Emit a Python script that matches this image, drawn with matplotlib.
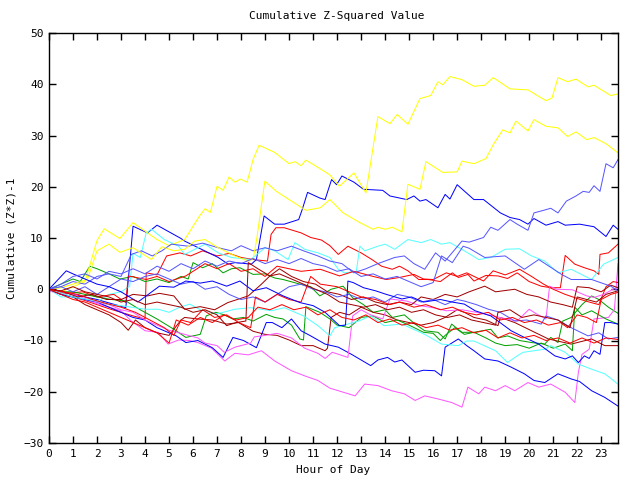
import matplotlib
matplotlib.use("Agg")
import matplotlib.pyplot as plt

# ---- data (hour of day, cumulative value) ----
yel1_h = [0, 0.5, 1.0, 1.5, 2.0, 2.3, 2.95, 3.5, 4.5, 5.0, 5.65, 6.27, 6.5, 6.72, 7.0, 7.25, 7.5, 7.75, 7.97, 8.25,
          8.5, 8.75, 9.4, 10.0, 10.25, 10.5, 10.7, 11.3, 11.7, 12.1, 12.7, 13.2, 13.7, 14.2, 14.5, 14.95, 15.45, 15.9,
          16.2, 16.4, 16.7, 17.2, 17.7, 18.15, 18.5, 19.2, 19.95, 20.7, 20.95, 21.2, 21.6, 21.95, 22.45, 22.7, 23.4, 23.7]
yel1_v = [0, -0.5, 0.5, 1.5, 9.5, 11.8, 9.9, 13.0, 9.7, 8.5, 9.7, 14.3, 15.7, 15.0, 20.1, 19.3, 21.9, 20.9, 21.5, 20.9,
          25.3, 28.1, 26.7, 24.5, 24.9, 24.1, 25.2, 23.5, 22.3, 20.1, 22.7, 18.8, 33.7, 32.3, 34.1, 32.2, 37.2, 37.8,
          40.5, 39.9, 41.5, 40.9, 39.6, 39.8, 41.3, 39.1, 38.9, 36.8, 37.3, 41.3, 40.5, 41.0, 39.5, 39.8, 37.8, 38.1]

yel2_h = [0, 0.5, 1.0, 1.6, 2.0, 2.5, 2.95, 3.5, 4.27, 4.7, 5.2, 5.65, 6.07, 6.5, 7.05, 7.75, 8.3, 8.5, 8.64, 8.99,
          9.47, 10.0, 10.7, 11.3, 11.7, 12.25, 12.95, 13.5, 13.7, 14.0, 14.3, 14.7, 14.95, 15.45, 15.7, 16.4, 17.0,
          17.2, 17.7, 18.2, 18.5, 18.9, 19.2, 19.45, 19.95, 20.2, 20.7, 21.2, 21.6, 21.95, 22.4, 22.7, 23.2, 23.7]
yel2_v = [0, 0.3, 1.0, 1.9, 7.5, 8.8, 7.2, 8.1, 5.8, 8.3, 7.5, 7.8, 9.4, 9.7, 8.1, 6.5, 5.5, 5.9, 9.4, 21.1,
          19.1, 17.5, 15.4, 15.9, 17.5, 14.9, 13.0, 11.7, 12.1, 11.7, 12.1, 11.2, 20.5, 19.5, 24.9, 22.8, 22.9,
          25.0, 24.5, 25.5, 28.2, 31.1, 30.5, 32.8, 30.9, 33.1, 31.8, 31.5, 29.8, 30.7, 29.2, 29.6, 28.4, 26.6]

blu1_h = [0, 1.0, 2.0, 3.2, 3.5, 4.1, 4.5, 5.5, 5.65, 6.35, 7.05, 7.46, 7.75, 8.43, 8.64, 8.96, 9.4, 9.8, 10.4,
          10.55, 10.77, 11.28, 11.5, 11.77, 11.98, 12.2, 12.7, 13.1, 13.9, 14.2, 14.9, 15.2, 15.45, 15.7, 16.2,
          16.5, 16.7, 17.0, 17.7, 18.1, 18.8, 19.2, 19.6, 19.95, 20.2, 20.7, 21.2, 21.5, 22.1, 22.7, 23.2, 23.5, 23.7]
blu1_v = [0, -1.0, -2.0, -3.6, 12.3, 11.0, 12.5, 9.9, 9.4, 7.8, 6.2, 4.9, 5.2, 4.9, 5.8, 14.3, 12.7, 12.7, 13.6,
          15.6, 18.9, 17.8, 17.5, 21.4, 20.4, 22.1, 20.9, 19.5, 19.3, 18.2, 17.5, 18.2, 17.2, 17.5, 15.9,
          18.5, 17.6, 20.4, 17.5, 17.5, 14.9, 14.0, 13.6, 12.7, 13.8, 12.5, 13.2, 12.5, 12.7, 12.2, 10.3, 12.5, 11.7]

blu2_h = [0, 0.5, 1.0, 1.5, 2.0, 2.5, 3.0, 3.5, 4.0, 4.5, 5.0, 5.3, 5.7, 6.2, 6.8, 7.25, 7.66, 8.1, 8.64, 9.05,
          9.3, 9.7, 10.1, 10.5, 10.9, 11.5, 12.05, 12.6, 13.4, 13.7, 14.1, 14.4, 14.7, 15.25, 15.6, 16.07, 16.35,
          16.5, 17.05, 17.4, 17.7, 18.15, 18.7, 19.25, 19.8, 20.2, 20.65, 21.2, 21.75, 22.1, 22.6, 23.15, 23.7]
blu2_v = [0, -1.0, -1.5, -2.0, -2.5, -3.5, -4.5, -5.5, -6.0, -7.5, -8.5, -9.1, -10.4, -10.0, -11.4, -13.3, -9.4,
          -10.0, -11.4, -6.5, -6.5, -7.5, -5.8, -8.1, -9.1, -10.7, -11.3, -12.7, -14.9, -13.8, -13.3, -14.2, -13.8,
          -16.2, -15.8, -15.9, -16.9, -11.3, -9.7, -11.0, -12.0, -13.6, -14.0, -15.2, -16.5, -17.8, -18.2, -16.5,
          -17.5, -18.0, -19.8, -21.1, -22.8]

blu3_h = [0, 0.3, 0.72, 1.0, 1.5, 2.0, 2.5, 3.0, 3.7, 4.05, 4.6, 5.2, 5.7, 6.3, 6.8, 7.4, 7.95, 8.5, 9.05, 9.75,
          10.45, 11.0, 11.5, 12.1, 12.35, 12.45, 12.67, 13.1, 13.6, 14.05, 14.7, 15.1, 15.6, 16.3, 16.8, 17.3,
          17.75, 18.4, 18.7, 19.25, 19.8, 20.4, 21.07, 21.5, 21.8, 22.05, 22.3, 22.5, 22.7, 22.95, 23.15, 23.4, 23.7]
blu3_v = [0, 1.5, 3.6, 3.0, 2.0, 1.0, 0.5, -0.5, -2.5, -1.3, 0.6, 0.4, 1.6, 1.2, 1.6, 0.6, 1.6, -0.3, 0.3, -1.3,
          -2.6, -3.2, -4.5, -7.1, -7.0, 1.6, 1.3, 0.3, -0.3, -1.0, -1.9, -1.5, -2.5, -2.0, -2.5, -2.9,
          -4.2, -5.2, -6.2, -8.1, -9.4, -10.7, -13.0, -13.6, -13.0, -14.3, -13.0, -13.5, -12.0, -12.7, -6.5, -6.5, -6.8]

slt1_h = [0, 0.5, 1.0, 1.5, 2.0, 2.5, 3.0, 3.43, 3.85, 4.3, 4.7, 5.1, 5.8, 6.4, 7.05, 7.6, 8.0, 8.5, 9.0, 9.5,
          10.1, 10.6, 11.2, 11.7, 12.2, 12.7, 13.2, 13.7, 14.4, 14.8, 15.2, 15.65, 16.1, 16.5, 17.2, 17.5, 18.1,
          18.4, 18.7, 19.2, 19.5, 19.95, 20.2, 20.6, 20.9, 21.2, 21.55, 21.95, 22.25, 22.5, 22.7, 22.95, 23.2, 23.5, 23.7]
slt1_v = [0, 0.5, 1.5, 1.0, 2.5, 3.0, 2.5, 6.8, 7.5, 6.5, 7.5, 8.8, 8.4, 9.0, 8.1, 7.5, 8.5, 7.5, 8.1, 7.5,
          8.4, 7.5, 6.5, 5.5, 5.0, 3.2, 4.0, 5.0, 6.2, 6.5, 5.0, 3.9, 7.1, 5.5, 9.4, 9.2, 10.1,
          12.1, 11.5, 13.6, 12.7, 11.5, 14.9, 15.4, 15.8, 14.9, 17.2, 18.2, 19.1, 18.9, 20.2, 19.1, 24.5, 23.7, 25.3]

slt2_h = [0, 0.5, 1.0, 1.5, 2.0, 2.5, 3.0, 3.5, 4.0, 4.5, 5.0, 5.5, 6.0, 6.5, 7.0, 7.5, 8.0, 8.5, 9.0, 9.5, 10.0,
          10.5, 11.0, 11.5, 12.0, 12.5, 13.0, 13.5, 14.0, 14.5, 15.0, 15.5, 16.0, 16.5, 17.0, 17.3, 17.8, 18.3,
          18.8, 19.4, 19.9, 20.5, 20.7, 21.2, 21.75, 22.45, 22.9, 23.3, 23.7]
slt2_v = [0, 0.5, -0.5, 0.5, -1.0, 0.5, 2.0, 1.5, 2.5, 3.0, 2.0, 1.0, 1.5, 0.0, 0.5, -1.0, -2.0, -1.5, -2.5, -1.0,
          0.5, 1.0, 0.0, -0.5, -1.5, -1.0, -2.0, -1.5, -2.5, -1.0, -1.5, -2.5, -2.0, -3.0, -2.0, -2.3, -3.0, -3.9,
          -4.5, -6.2, -6.0, -6.8, -5.2, -6.0, -7.5, -9.1, -8.5, -9.7, -9.4]

slt3_h = [0, 0.5, 1.0, 1.5, 2.0, 2.5, 3.0, 3.5, 4.0, 4.5, 5.0, 5.5, 6.0, 6.5, 7.0, 7.5, 8.0, 8.5, 9.0, 9.5, 10.0,
          10.5, 11.0, 11.5, 12.0, 12.5, 13.0, 13.5, 14.0, 14.5, 15.0, 15.5, 16.0, 16.35, 16.8, 17.25, 17.5, 18.15,
          19.0, 19.8, 20.4, 21.35, 21.75, 22.6, 23.4, 23.7]
slt3_v = [0, 1.0, 2.5, 3.0, 2.0, 3.5, 3.0, 4.0, 3.0, 4.5, 3.5, 5.0, 4.0, 5.5, 4.5, 5.5, 5.0, 6.0, 5.0, 5.8, 5.0,
          6.0, 5.0, 4.5, 3.5, 4.0, 2.5, 3.0, 2.0, 2.5, 1.5, 0.5, 1.3, 6.5, 5.2, 8.4, 8.0, 6.2,
          6.5, 3.9, 5.8, 2.9, 1.9, 1.9, 0.6, -0.3]

red1_h = [0, 0.5, 1.0, 1.5, 2.0, 2.5, 3.0, 3.5, 4.0, 4.05, 4.5, 4.9, 5.45, 5.9, 6.4, 7.0, 7.5, 8.0, 8.5, 9.1,
          9.25, 9.45, 9.8, 10.5, 10.9, 11.35, 11.7, 12.05, 12.45, 13.0, 13.45, 13.85, 14.3, 14.6, 14.95, 15.4,
          15.8, 16.3, 16.8, 17.05, 17.45, 17.7, 18.2, 18.7, 19.1, 19.5, 20.0, 20.5, 20.9, 21.3, 21.5, 21.9, 22.3,
          22.7, 22.9, 22.95, 23.3, 23.7]
red1_v = [0, -0.8, -1.5, -2.2, -3.0, -3.8, -4.5, -5.2, -5.8, 3.2, 2.8, 6.5, 7.1, 6.5, 7.5, 6.5, 7.0, 6.2, 5.8, 5.5,
          10.7, 12.0, 12.0, 11.0, 10.1, 9.6, 8.5, 6.8, 8.4, 7.1, 5.8, 4.5, 3.9, 4.5, 3.6, 1.9,
          1.9, 1.5, 3.2, 2.3, 2.9, 1.6, 2.7, 2.6, 2.1, 3.2, 1.5, 0.6, 0.3, 0.3, 6.6, 4.9, 4.2,
          3.6, 2.9, 6.8, 7.1, 8.8]

red2_h = [0, 0.7, 1.4, 2.0, 2.7, 3.2, 3.3, 4.05, 4.5, 5.0, 5.7, 6.5, 7.0, 7.5, 8.0, 8.5, 9.0, 9.5, 10.0, 10.5,
          11.3, 12.1, 12.7, 13.5, 14.05, 14.6, 15.2, 15.6, 16.0, 16.55, 17.0, 17.4, 18.1, 18.5, 19.0, 19.6, 20.1,
          20.6, 21.0, 21.5, 22.0, 22.5, 22.9, 23.2, 23.5, 23.7]
red2_v = [0, -0.8, -0.5, -1.5, -1.0, -2.6, 2.6, 1.9, 2.5, 1.5, 2.6, 5.0, 4.0, 5.0, 3.5, 4.0, 2.5, 4.5, 4.0, 3.5,
          3.9, 2.6, 3.5, 2.5, 1.9, 2.3, 2.9, 2.0, 1.9, 3.2, 2.5, 3.2, 1.6, 3.6, 2.8, 3.9, 2.5,
          1.0, 0.0, -1.0, -1.8, -2.5, -3.0, 0.5, 1.5, 1.3]

red3_h = [0, 0.6, 1.2, 1.8, 2.4, 3.0, 3.6, 4.2, 4.8, 5.2, 5.5, 5.9, 6.4, 6.9, 7.4, 7.9, 8.4, 8.6, 9.0, 9.5, 10.0,
          10.5, 10.9, 11.3, 12.0, 12.5, 13.0, 13.6, 14.2, 14.6, 15.2, 15.7, 16.3, 16.8, 17.3, 17.8, 18.3, 18.8,
          19.3, 19.8, 20.3, 20.8, 21.3, 21.6, 22.0, 22.4, 22.8, 23.0, 23.4, 23.7]
red3_v = [0, -0.5, -1.0, -2.0, -2.8, -3.5, -4.5, -6.0, -7.5, -9.0, -6.0, -6.5, -4.0, -5.5, -5.0, -6.5, -7.5, -1.5,
          -2.5, -1.0, -2.0, -2.5, 2.5, 1.0, 0.5, -0.5, -1.5, -2.0, -3.0, -2.5, -3.5, -3.0, -4.0, -3.5, -4.5, -5.0,
          -4.5, -6.0, -5.5, -6.5, -6.0, -7.0, -6.5, -7.5, -5.0, -5.5, -6.5, -2.0, -1.0, -0.6]

red4_h = [0, 0.5, 1.0, 1.5, 2.0, 2.5, 3.0, 3.5, 4.0, 4.5, 5.0, 5.3, 5.8, 6.3, 6.8, 7.3, 7.8, 8.3, 8.7, 9.2, 9.7,
          10.2, 10.7, 11.2, 11.7, 12.2, 12.7, 13.2, 13.7, 14.2, 14.7, 15.2, 15.7, 16.2, 16.7, 17.2, 17.7, 18.2,
          18.7, 19.2, 19.7, 20.2, 20.7, 21.2, 21.7, 22.2, 22.7, 23.2, 23.7]
red4_v = [0, -1.0, -2.0, -2.5, -3.5, -4.5, -5.5, -6.5, -7.5, -8.5, -10.5, -6.0, -7.0, -5.5, -6.5, -5.0, -6.0, -5.5,
          -3.5, -4.0, -3.0, -4.0, -3.5, -5.0, -4.0, -5.5, -6.0, -5.0, -6.5, -5.8, -7.0, -6.5, -7.5, -7.0, -8.0,
          -7.5, -8.5, -8.0, -9.5, -8.5, -9.5, -9.0, -10.0, -9.5, -10.5, -9.5, -10.5, -9.5, -9.8]

drd1_h = [0, 0.5, 1.0, 1.5, 2.0, 2.5, 3.0, 3.3, 3.6, 4.0, 4.5, 5.0, 5.5, 5.65, 6.2, 6.8, 7.4, 7.9, 8.5, 9.0, 9.5,
          10.0, 10.5, 11.0, 11.5, 11.6, 11.75, 12.1, 12.5, 13.0, 13.5, 14.0, 14.5, 15.0, 15.5, 16.0, 16.5, 17.0,
          17.3, 17.7, 18.2, 18.7, 18.8, 19.4, 20.1, 20.8, 21.75, 22.6, 23.15, 23.7]
drd1_v = [0, -1.0, -1.5, -3.0, -4.0, -5.0, -6.5, -8.0, -6.0, -7.5, -8.5, -9.0, -6.0, -5.5, -5.8, -6.0, -6.8, -6.5,
          -8.2, -8.8, -9.0, -9.9, -11.0, -11.0, -12.0, -11.5, -5.5, -4.5, -5.0, -3.5, -4.5, -5.0, -6.0, -6.5,
          -7.0, -6.5, -5.5, -4.0, -4.5, -5.5, -6.0, -7.1, -5.5, -6.5, -8.1, -9.7, -10.7, -9.7, -11.0, -11.0]

drd2_h = [0, 0.6, 1.2, 1.8, 2.4, 3.0, 3.5, 4.1, 4.6, 5.2, 5.65, 6.3, 6.9, 7.45, 8.3, 8.85, 9.2, 9.6, 10.1, 10.6,
          11.1, 11.6, 12.1, 12.6, 13.1, 13.6, 14.1, 14.6, 15.1, 15.5, 16.0, 16.5, 17.0, 17.5, 18.15, 18.6, 19.4,
          19.9, 20.4, 20.9, 21.4, 21.8, 22.0, 22.5, 23.0, 23.4, 23.7]
drd2_v = [0, -0.5, -1.5, -1.0, -2.0, -2.0, -1.0, -1.3, -0.8, -1.3, -3.9, -3.4, -4.0, -2.6, -1.3, 1.0, 2.6, 4.0,
          2.5, 1.5, 1.0, -0.5, -1.0, -2.0, -1.5, -2.5, -3.0, -2.5, -3.0, -1.5, -2.0, -1.0, -1.5, -0.5, 0.6, -0.5,
          0.0, -1.0, -1.5, -2.5, -3.0, -3.5, 0.5, 0.3, -0.5, 0.8, 0.3]

drd3_h = [0, 0.5, 1.0, 1.5, 2.0, 2.5, 3.0, 3.5, 4.0, 4.5, 5.0, 5.5, 6.0, 6.5, 7.0, 7.4, 7.8, 8.2, 8.3, 8.7, 9.2,
          9.6, 10.1, 10.6, 11.1, 11.6, 12.1, 12.6, 13.1, 13.6, 14.1, 14.6, 15.1, 15.6, 16.1, 16.6, 17.1, 17.6,
          18.1, 18.6, 18.7, 19.2, 19.7, 20.2, 20.7, 21.2, 21.7, 22.0, 22.4, 22.8, 23.2, 23.7]
drd3_v = [0, -0.3, 0.5, -0.5, -1.0, -1.5, -2.5, -2.0, -3.0, -2.5, -3.0, -3.5, -4.5, -4.0, -5.0, -7.1, -6.5, -6.2,
          5.2, 4.0, 2.6, 3.0, 2.0, 1.0, 0.0, -1.0, -2.5, -3.0, -3.5, -3.0, -4.0, -3.5, -4.5, -4.0, -5.0, -5.5,
          -5.0, -6.0, -6.5, -7.0, -4.5, -4.0, -5.5, -5.0, -5.5, -6.0, -7.5, -1.5, -2.0, -2.5, -1.0, -0.3]

grn1_h = [0, 0.5, 1.0, 1.3, 1.7, 2.0, 2.5, 2.95, 3.5, 4.0, 4.5, 5.0, 5.5, 5.8, 6.0, 6.4, 6.8, 7.25, 7.6, 7.95, 8.5,
          9.0, 9.4, 9.75, 10.45, 10.9, 11.28, 11.75, 12.25, 12.65, 13.1, 13.5, 14.0, 14.3, 14.8, 15.25, 15.65,
          16.2, 16.5, 16.77, 17.2, 17.7, 18.4, 18.7, 19.1, 19.6, 20.1, 20.65, 20.9, 21.2, 21.4, 21.75, 22.2, 22.6,
          22.9, 23.3, 23.7]
grn1_v = [0, 1.0, 2.0, 1.5, 4.5, 4.0, 3.0, 2.0, 2.5, 1.5, 2.0, 1.3, 2.5, 2.0, 5.2, 4.2, 5.0, 3.2, 4.0, 4.2, 2.9,
          3.0, 2.2, 1.9, 1.0, 0.5, -1.3, 0.0, 0.6, -1.7, -3.0, -4.5, -4.0, -5.5, -5.0, -6.8, -8.1,
          -8.4, -9.7, -6.8, -8.4, -8.4, -7.8, -9.5, -9.1, -10.0, -10.4, -10.7, -9.4, -10.4, -6.2, -5.5, -3.0, -1.3,
          -2.0, -3.5, -4.7]

grn2_h = [0, 0.5, 1.0, 1.5, 2.0, 2.6, 3.2, 3.8, 4.5, 5.2, 5.7, 6.3, 6.55, 6.95, 7.3, 7.65, 8.1, 8.5, 9.05, 9.4,
          9.75, 10.1, 10.45, 10.6, 10.7, 11.28, 11.7, 12.0, 12.5, 13.0, 13.5, 14.0, 14.5, 15.0, 15.6, 16.0, 16.3,
          16.5, 16.9, 17.3, 17.7, 18.2, 18.6, 19.0, 19.5, 20.0, 20.5, 21.0, 21.5, 21.8, 21.9, 22.2, 22.6, 23.2, 23.7]
grn2_v = [0, -0.5, -0.5, -1.0, -1.5, -2.0, -2.3, -4.0, -5.8, -7.8, -9.4, -8.8, -5.2, -4.5, -5.0, -5.8, -5.5,
          -6.2, -4.9, -5.5, -5.8, -7.0, -9.7, -9.9, -3.4, -4.5, -5.8, -7.0, -7.5, -5.5, -5.2, -6.5, -6.0, -7.0,
          -8.4, -8.6, -10.0, -9.0, -7.5, -8.8, -8.4, -9.5, -10.5, -11.0, -10.8, -11.5, -10.5, -11.5, -10.7, -12.0,
          -3.5, -5.0, -4.2, -5.8, -6.8]

cyn1_h = [0, 0.5, 1.0, 1.5, 2.0, 2.5, 3.0, 3.36, 3.5, 3.8, 4.05, 4.27, 4.8, 5.4, 5.65, 6.5, 7.05, 7.6, 8.4, 9.0,
          9.4, 9.96, 10.24, 10.65, 11.2, 11.7, 12.05, 12.3, 12.8, 12.95, 13.15, 13.7, 14.0, 14.4, 14.95, 15.5,
          15.9, 16.35, 16.7, 17.3, 17.9, 18.4, 19.0, 19.6, 20.1, 20.65, 21.2, 21.75, 22.3, 22.6, 23.1, 23.7]
cyn1_v = [0, -1.5, -1.5, -2.0, -2.5, -1.0, -0.5, 0.6, 7.0, 6.2, 11.0, 11.7, 9.7, 8.4, 6.8, 8.8, 7.1, 6.2, 5.8, 8.1,
          7.5, 5.8, 9.1, 7.8, 7.1, 6.2, 3.9, 3.2, 3.5, 8.4, 7.5, 8.4, 8.8, 7.8, 9.7, 9.1,
          9.7, 8.8, 9.1, 7.5, 5.8, 6.2, 7.8, 7.9, 6.5, 5.5, 3.2, 3.9, 2.6, 1.9, 4.9, 6.2]

cyn2_h = [0, 1.0, 2.0, 2.5, 3.0, 3.57, 4.0, 4.55, 5.0, 5.4, 5.86, 6.3, 7.0, 7.74, 8.4, 9.27, 9.8, 10.6, 11.2,
          11.7, 11.9, 12.9, 13.4, 13.95, 14.7, 15.65, 16.35, 17.05, 17.4, 17.7, 18.6, 19.1, 19.5, 19.75, 20.65,
          20.9, 21.5, 22.05, 22.6, 23.15, 23.7]
cyn2_v = [0, -1.5, -2.3, -3.0, -3.2, -3.6, -3.9, -3.9, -4.5, -3.6, -2.9, -4.0, -4.8, -3.9, -3.6, -4.2, -3.6, -5.2,
          -7.1, -9.1, -7.5, -6.2, -5.2, -7.1, -6.8, -8.8, -10.7, -11.0, -10.1, -10.1, -12.0, -14.3, -13.0, -12.3,
          -11.7, -11.0, -12.3, -14.6, -15.6, -16.5, -18.5]

mag1_h = [0, 0.5, 1.0, 1.5, 2.0, 2.5, 3.0, 3.43, 4.0, 4.55, 4.96, 5.4, 5.85, 6.2, 6.77, 7.32, 7.74, 8.3, 8.85,
          9.4, 10.1, 10.65, 11.2, 11.7, 12.05, 12.75, 13.15, 13.7, 14.27, 14.8, 15.25, 15.65, 16.2, 16.77, 17.2,
          17.45, 17.9, 18.15, 18.6, 19.0, 19.4, 19.95, 20.4, 20.9, 21.5, 21.9, 22.05, 22.2, 22.5, 22.7, 23.3,
          23.55, 23.7]
mag1_v = [-0.3, -1.0, -1.5, -2.0, -2.8, -3.5, -4.2, -6.2, -8.1, -8.4, -10.7, -9.9, -10.0, -10.4, -11.5, -14.0,
          -12.5, -12.8, -12.0, -14.0, -15.9, -16.9, -17.8, -19.3, -19.8, -20.8, -18.5, -18.8, -19.8, -20.4, -21.7,
          -20.8, -21.4, -22.1, -23.0, -19.1, -20.4, -19.1, -19.8, -18.8, -19.8, -18.2, -19.1, -18.5, -20.1, -22.1,
          -16.2, -12.7, -11.7, -5.8, -5.5, -4.0, 5.0]

mag2_h = [0, 0.5, 1.0, 1.5, 2.0, 2.5, 3.0, 3.5, 4.0, 4.5, 5.0, 5.65, 6.2, 6.5, 7.0, 7.3, 7.75, 8.4, 8.55, 9.0,
          9.5, 10.1, 10.65, 11.2, 11.5, 11.8, 12.45, 12.65, 13.0, 13.35, 13.9, 14.2, 14.9, 15.45, 16.0, 16.55,
          17.2, 17.8, 18.5, 19.05, 19.5, 20.0, 20.3, 20.7, 20.85, 21.15, 21.8, 22.4, 22.7, 23.1, 23.5, 23.7]
mag2_v = [0, -0.5, -1.0, -1.8, -2.5, -3.0, -4.0, -4.5, -6.0, -7.0, -8.0, -8.8, -9.5, -10.5, -11.0, -12.3, -11.3,
          -10.5, -9.3, -9.0, -8.6, -9.5, -11.5, -12.5, -13.5, -12.3, -13.3, -5.2, -4.0, -4.9, -5.8, -1.9, -2.3,
          -3.2, -3.6, -4.2, -4.0, -4.5, -5.2, -5.8, -6.2, -3.9, -4.8, -5.8, 0.6, 0.0, -0.1, -1.3, -1.6, -1.0,
          0.0, 0.4]

red = "#ff0000"
green = "#00a000"
blue = "#0000ff"
magenta = "#ff55ff"
cyan = "#55ffff"
darkred = "#a00000"
yellow = "#ffff00"
slate = "#5555ff"

series = [
    (red1_h, red1_v, red), (grn1_h, grn1_v, green), (blu1_h, blu1_v, blue),
    (mag1_h, mag1_v, magenta), (cyn1_h, cyn1_v, cyan), (drd1_h, drd1_v, darkred),
    (yel1_h, yel1_v, yellow), (slt1_h, slt1_v, slate),
    (red2_h, red2_v, red), (grn2_h, grn2_v, green), (blu2_h, blu2_v, blue),
    (mag2_h, mag2_v, magenta), (cyn2_h, cyn2_v, cyan), (drd2_h, drd2_v, darkred),
    (yel2_h, yel2_v, yellow), (slt2_h, slt2_v, slate),
    (red3_h, red3_v, red), (blu3_h, blu3_v, blue), (drd3_h, drd3_v, darkred),
    (slt3_h, slt3_v, slate), (red4_h, red4_v, red),
]

plt.rcParams['font.family'] = ['DejaVu Sans Mono']
fig = plt.figure(figsize=(6.4, 4.8), dpi=100)
ax = fig.add_axes([49 / 640, 1 - 443 / 480, (618 - 49) / 640, (443 - 33) / 480])

# thin 1px gnuplot-style lines
for h, v, c in series:
    ax.plot(h, v, color=c, linewidth=0.72)

ax.set_xlim(0, 23.7)
ax.set_ylim(-30, 50)
ax.set_xticks(range(0, 24))
ax.set_yticks(range(-30, 51, 10))
ax.tick_params(direction='in', length=5, width=1, top=True, right=True, labelsize=8, pad=4)
for s in ax.spines.values():
    s.set_linewidth(1)

fig.text(337 / 640, 1 - 16 / 480, "Cumulative Z-Squared Value", ha='center', va='center', fontsize=8)
fig.text(333 / 640, 1 - 470 / 480, "Hour of Day", ha='center', va='center', fontsize=8)
fig.text(12 / 640, 1 - 238 / 480, "Cumulative (Z*Z)-1", ha='center', va='center', rotation=90, fontsize=8)

fig.savefig("out.png", dpi=100)
